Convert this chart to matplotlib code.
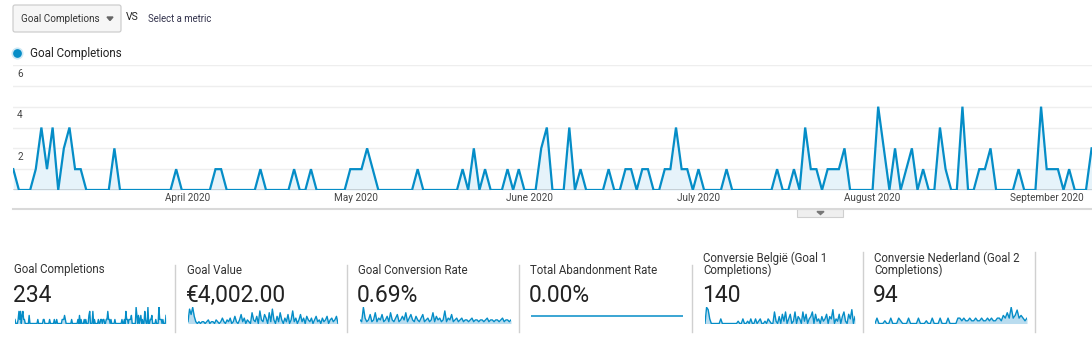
import matplotlib
matplotlib.use("Agg")
import matplotlib.pyplot as plt
import matplotlib.dates as mdates
import numpy as np
import pandas as pd
from matplotlib.patches import FancyBboxPatch, Polygon, Rectangle

plt.rcParams['font.family'] = ['Roboto', 'DejaVu Sans']

# data (daily, from 1 March 2020)
start_date = '2020-03-01'
goal_completions = [
    1, 0, 0, 0, 1, 3, 1, 3, 0, 2,
    3, 1, 1, 0, 0, 0, 0, 0, 2, 0,
    0, 0, 0, 0, 0, 0, 0, 0, 0, 1,
    0, 0, 0, 0, 0, 0, 1, 1, 0, 0,
    0, 0, 0, 0, 1, 0, 0, 0, 0, 0,
    1, 0, 0, 1, 0, 0, 0, 0, 0, 0,
    1, 1, 1, 2, 1, 0, 0, 0, 0, 0,
    0, 0, 1, 0, 0, 0, 0, 0, 0, 0,
    1, 0, 2, 0, 1, 0, 0, 0, 1, 0,
    1, 0, 0, 0, 2, 3, 0, 0, 0, 3,
    0, 1, 0, 0, 0, 0, 1, 0, 0, 1,
    1, 0, 1, 1, 0, 0, 1, 1, 3, 1,
    1, 0, 1, 0, 0, 0, 0, 1, 0, 0,
    0, 0, 0, 0, 0, 0, 1, 0, 0, 1,
    0, 3, 1, 1, 0, 1, 1, 1, 2, 0,
    0, 0, 0, 0, 4, 2, 0, 2, 0, 1,
    2, 0, 1, 0, 0, 3, 1, 0, 0, 4,
    0, 0, 1, 1, 2, 0, 0, 0, 0, 1,
    0, 0, 0, 4, 1, 1, 1, 0, 1, 0,
    0, 0, 2,
]
y_ticks = [2, 4, 6]
month_ticks = ['2020-04-01', '2020-05-01', '2020-06-01', '2020-07-01',
               '2020-08-01', '2020-09-01']

# scorecards
card_titles = ['Goal Completions', 'Goal Value', 'Goal Conversion Rate',
               'Total Abandonment Rate', 'Conversie België (Goal 1\nCompletions)',
               'Conversie Nederland (Goal 2\nCompletions)']
card_values = ['234', '€4,002.00', '0.69%', '0.00%', '140', '94']

# sparklines (rough shapes read off the thumbnails)
spark_value = [1, 8, 5, 9, 4, 1, 0, 1, 0, 1, 1, 0, 1, 2, 0, 1, 1, 0, 2, 1,
               0, 1, 3, 1, 0, 2, 1, 3, 0, 1, 4, 1, 0, 2, 5, 1, 3, 0, 2, 1,
               0, 6, 2, 1, 4, 0, 7, 2, 1, 5, 3, 0, 6, 1, 8, 2, 0, 4, 1, 6,
               2, 0, 3, 1, 5, 0, 2, 7, 1, 3, 0, 2, 5, 1, 3, 0, 4, 2, 1, 3,
               0, 2, 4, 1, 2, 0, 3, 1, 2, 4, 0, 2, 3, 1, 2, 4, 0]
spark_rate = [2, 1, 9, 3, 1, 2, 5, 1, 2, 6, 1, 3, 2, 5, 1, 2, 4, 1, 6, 2,
              1, 3, 5, 1, 2, 4, 2, 6, 1, 3, 5, 2, 1, 4, 2, 1, 3, 5, 1, 2,
              3, 1, 2, 6, 1, 4, 2, 3, 1, 2, 7, 1, 3, 2, 5, 1, 2, 3, 1, 2,
              3, 1, 2, 2, 1, 2, 3, 1, 2, 2, 1, 2, 2, 1, 2, 3, 1, 2, 2, 1,
              2, 2, 1, 2, 3, 1, 2, 2, 1, 2]
spark_abandon = [0] * 50
spark_be = [0, 7, 6, 2, 0, 0, 0, 0, 0, 0, 2, 0, 0, 0, 0, 0, 0, 0, 0, 0,
            0, 1, 0, 0, 2, 0, 0, 1, 0, 2, 0, 0, 2, 0, 1, 2, 0, 0, 1, 0,
            2, 1, 0, 0, 5, 1, 0, 3, 0, 4, 1, 5, 0, 2, 4, 0, 1, 5, 0, 3,
            2, 0, 5, 1, 4, 0, 2, 3, 5, 0, 4, 1, 2, 0, 3, 1, 2, 4, 0, 3,
            2, 6, 0, 2, 1, 4, 0, 3, 5, 1, 0, 4, 2, 6, 0, 3]
spark_nl = [0, 2, 0, 0, 0, 1, 0, 0, 2, 0, 0, 0, 2, 1, 0, 0, 0, 2, 0, 0,
            0, 0, 2, 0, 0, 0, 1, 0, 0, 2, 0, 0, 0, 2, 0, 0, 0, 2, 0, 0,
            0, 0, 2, 2, 1, 2, 1, 1, 2, 1, 1, 2, 1, 1, 2, 1, 1, 2, 1, 2,
            1, 1, 2, 2, 1, 3, 2, 4, 2, 6, 2, 3, 5, 2, 3, 2, 1, 2]
sparks = [goal_completions, spark_value, spark_rate, spark_abandon, spark_be, spark_nl]

BLUE = '#058DC7'
FILL = '#E6F3FA'
W, H = 1092, 357

fig = plt.figure(figsize=(W / 100, H / 100), dpi=100)
fig.patch.set_facecolor('white')

# overlay axes in pixel coordinates for the page chrome
ov = fig.add_axes([0, 0, 1, 1])
ov.set_xlim(0, W)
ov.set_ylim(H, 0)
ov.axis('off')

# metric dropdown
ov.add_patch(FancyBboxPatch((13, 5), 108, 27, boxstyle='round,pad=0,rounding_size=2',
                            fc='#f6f6f6', ec='#c9c9c9', lw=0.8))
ov.text(21, 19, 'Goal Completions', fontsize=7.1, color='#333', va='center')
ov.add_patch(Polygon([[107, 17], [113, 17], [110, 20.5]], closed=True, color='#666'))
ov.text(126, 17.5, 'VS', fontsize=7.5, color='#222', va='center')
ov.text(148, 18.5, 'Select a metric', fontsize=6.9, color='#33334d', va='center')

# legend
ov.plot(17, 53, 'o', ms=7.5, color=BLUE, mec='#cde8f5', mew=1.2)
ov.text(30, 53.5, 'Goal Completions', fontsize=8.4, color='#222', va='center')

# divider under chart + toggle tab
ov.plot([13, W], [209, 209], color='#d9d9d9', lw=1.5)
ov.add_patch(Rectangle((797, 209), 46, 8, fc='#efefef', ec='#cfcfcf', lw=0.8))
ov.add_patch(Polygon([[817, 211.5], [824, 211.5], [820.5, 214.5]], closed=True, color='#777'))

# main chart
dates = pd.date_range(start_date, periods=len(goal_completions), freq='D')
x0, x1, ybot, ytop = 13.3, 1091.6, 190, 65
ax = fig.add_axes([x0 / W, 1 - ybot / H, (x1 - x0) / W, (ybot - ytop) / H])
ax.set_facecolor('none')
ax.fill_between(dates, goal_completions, 0, color=FILL, lw=0, zorder=2)
ax.plot(dates, goal_completions, color=BLUE, lw=1.6, zorder=4, solid_joinstyle='miter')
ax.set_xlim(dates[0], dates[-1])
ax.set_ylim(0, 6)
for v in range(1, 7):
    ax.axhline(v, color='#eeeeee', lw=1, zorder=1)
ax.axhline(0, color='#444', lw=1, zorder=3)
for sp in ax.spines.values():
    sp.set_visible(False)
ax.set_yticks([])
ax.set_xticks(pd.to_datetime(month_ticks))
ax.xaxis.set_major_formatter(mdates.DateFormatter('%B %Y'))
ax.tick_params(axis='x', length=0, pad=2.5, labelsize=7.2, labelcolor='#444')
for v in y_ticks:
    ax.text(0.0035, v - 0.17, str(v), transform=ax.get_yaxis_transform(),
            fontsize=7.2, color='#444', va='top', ha='left', zorder=5)

# scorecards
title_x = [14, 187, 358, 530, 703, 874]
spark_x = [(15, 166), (188, 338), (360, 511), (531, 683), (705, 855), (875, 1027)]
sep_x = [175, 347, 519, 692, 863, 1035]
for i, (title, val) in enumerate(zip(card_titles, card_values)):
    lines = title.split('\n')
    y_last = 270
    for k, ln in enumerate(lines):
        ov.text(title_x[i], y_last - 12 * (len(lines) - 1 - k), ln,
                fontsize=8.3, color='#333', va='center')
    ov.text(title_x[i] - 1, 295, val, fontsize=16.5, color='#222', va='center')
    top = 252 if len(lines) > 1 else 265
    ov.plot([sep_x[i], sep_x[i]], [top, 332], color='#d0d0d0', lw=1)

    sx0, sx1 = spark_x[i]
    sa = fig.add_axes([sx0 / W, 1 - 324 / H, (sx1 - sx0) / W, 17 / H])
    data = sparks[i]
    xs = np.arange(len(data))
    if max(data) == 0:
        sa.plot(xs, data, color=BLUE, lw=1.1)
        sa.set_ylim(-1, 1)
    else:
        sa.fill_between(xs, data, 0, color='#b9dcef', lw=0)
        sa.plot(xs, data, color=BLUE, lw=1.0)
        sa.set_ylim(-max(data) * 0.03, max(data) * 1.02)
    sa.set_xlim(0, len(data) - 1)
    sa.axis('off')

fig.savefig('out.png', dpi=100, facecolor='white')
